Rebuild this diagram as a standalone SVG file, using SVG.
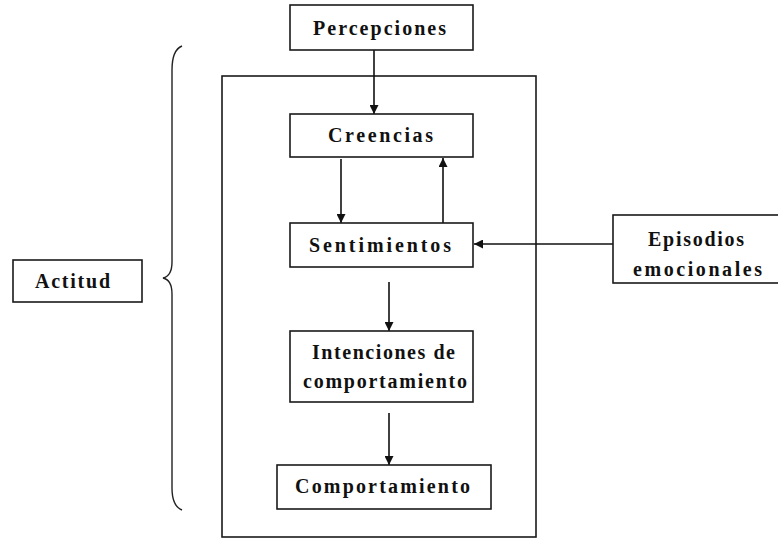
<svg xmlns="http://www.w3.org/2000/svg" width="778" height="539" viewBox="0 0 778 539">
  <style>
    .box { fill: #ffffff; stroke: #1a1a1a; stroke-width: 1.6; }
    .frame { fill: none; stroke: #1a1a1a; stroke-width: 1.6; }
    .lbl { font-family: "Liberation Serif", "Times New Roman", serif; font-weight: bold; font-size: 20px; fill: #111111; }
    .conn { stroke: #111111; stroke-width: 1.6; fill: none; marker-end: url(#arrow); }
    .brace { fill: none; stroke: #222222; stroke-width: 1.4; }
  </style>
  <defs>
    <marker id="arrow" viewBox="0 0 10 10" refX="10" refY="5" markerWidth="10" markerHeight="9" markerUnits="userSpaceOnUse" orient="auto">
      <path d="M0,0 L10,5 L0,10 Z" fill="#111111"/>
    </marker>
  </defs>

  <!-- outer frame around the attitude components -->
  <rect class="frame" x="222" y="76" width="314" height="461"/>

  <!-- curly brace linking the frame to "Actitud" -->
  <path class="brace" d="M182,46 Q172,50 172,70 L172,262 Q172,276 163,278 Q172,280 172,294 L172,488 Q172,506 182,510"/>

  <g id="connectors">
    <line class="conn" x1="374" y1="50" x2="374" y2="114"/>
    <line class="conn" x1="341" y1="159" x2="341" y2="223"/>
    <line class="conn" x1="443" y1="223" x2="443" y2="158"/>
    <line class="conn" x1="613" y1="244" x2="474" y2="244"/>
    <line class="conn" x1="389" y1="282" x2="389" y2="331"/>
    <line class="conn" x1="389" y1="413" x2="389" y2="465"/>
  </g>

  <g id="percepciones">
    <rect class="box" x="290" y="5" width="183" height="45"/>
    <text class="lbl" x="313" y="35" textLength="133" lengthAdjust="spacing">Percepciones</text>
  </g>

  <g id="creencias">
    <rect class="box" x="290" y="114" width="183" height="43"/>
    <text class="lbl" x="328" y="142" textLength="105" lengthAdjust="spacing">Creencias</text>
  </g>

  <g id="sentimientos">
    <rect class="box" x="290" y="223" width="183" height="44"/>
    <text class="lbl" x="309" y="252" textLength="142" lengthAdjust="spacing">Sentimientos</text>
  </g>

  <g id="episodios">
    <rect class="box" x="613" y="215" width="180" height="68"/>
    <text class="lbl" x="648" y="246" textLength="96" lengthAdjust="spacing">Episodios</text>
    <text class="lbl" x="633" y="276" textLength="129" lengthAdjust="spacing">emocionales</text>
  </g>

  <g id="actitud">
    <rect class="box" x="13" y="260" width="129" height="42"/>
    <text class="lbl" x="35" y="288" textLength="75" lengthAdjust="spacing">Actitud</text>
  </g>

  <g id="intenciones">
    <rect class="box" x="290" y="331" width="183" height="71"/>
    <text class="lbl" x="312" y="359" textLength="143" lengthAdjust="spacing">Intenciones de</text>
    <text class="lbl" x="303" y="388" textLength="164" lengthAdjust="spacing">comportamiento</text>
  </g>

  <g id="comportamiento">
    <rect class="box" x="277" y="465" width="214" height="44"/>
    <text class="lbl" x="295" y="493" textLength="175" lengthAdjust="spacing">Comportamiento</text>
  </g>
</svg>
